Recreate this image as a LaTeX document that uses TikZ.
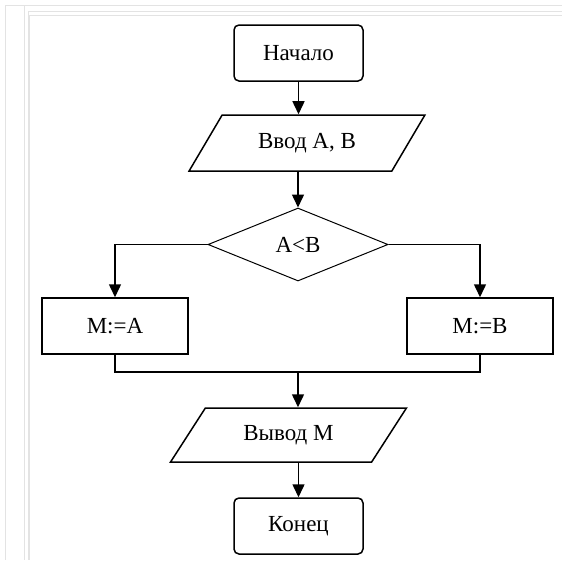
\documentclass[tikz,border=0pt]{standalone}
\usepackage{fontspec}
\setmainfont{Liberation Serif}
\usetikzlibrary{shapes.geometric,arrows.meta}

\begin{document}
\begin{tikzpicture}[x=1pt,y=-1pt,
    font=\fontsize{23}{27}\selectfont,
    every node/.style={draw,line width=1.5pt,inner sep=2pt},
    term/.style={rectangle,rounded corners=5pt,minimum width=129pt,minimum height=56pt},
    proc/.style={rectangle,minimum width=146pt,minimum height=56pt},
    io/.style={trapezium,trapezium left angle=50,trapezium right angle=130,
      trapezium stretches=true,minimum width=236pt,minimum height=56pt},
    test/.style={diamond,line width=1pt,minimum width=180pt,minimum height=73pt,inner sep=0pt},
    frame/.style={draw=gray!22,line width=1pt}]
  \useasboundingbox (0,0) rectangle (562,560);
  % page frame
  \draw[frame] (5,560) -- (5,5) -- (562,5);
  \draw[frame] (24,560) -- (24,5);
  \draw[frame] (28,560) -- (28,11) -- (562,11);
  \draw[frame] (29,560) -- (29,15) -- (562,15);

  \node[term] (start) at (298.5,53) {Начало};
  \node[io] (in) at (307,143) {Ввод А, В};
  \node[test] (cond) at (298,244.5) {A<B};
  \node[proc] (ma) at (115,326) {M:=A};
  \node[proc] (mb) at (480,326) {M:=B};
  \node[io,minimum height=54pt] (out) at (288.5,435) {Вывод М};
  \node[term] (stop) at (298.5,526) {Конец};
  \coordinate (join) at (298,372);

  \path[-{Triangle[width=12pt,length=13pt]},line width=1.5pt]
    (start) edge (start |- in.north)
    (cond |- in.south) edge (cond)
    (cond.west) edge[to path={-| (\tikztotarget)}] (ma)
    (cond.east) edge[to path={-| (\tikztotarget)}] (mb)
    (join) edge (join |- out.north)
    (stop |- out.south) edge (stop);
  \draw[line width=1.5pt] (ma) |- (join) -| (mb);
\end{tikzpicture}
\end{document}
